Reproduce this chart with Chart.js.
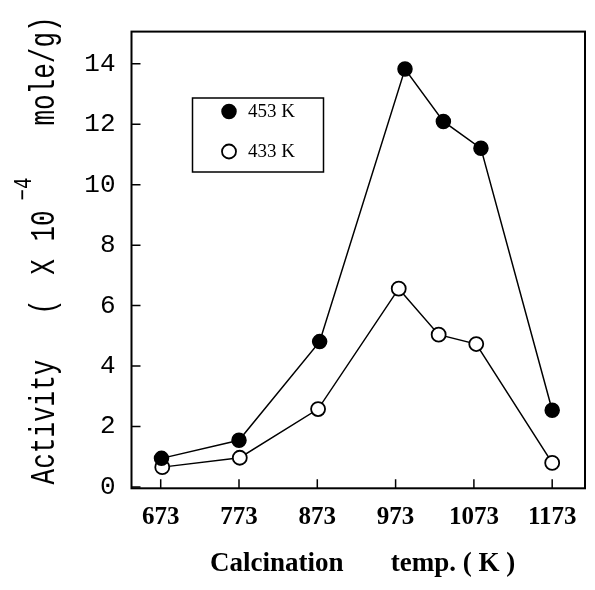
<!DOCTYPE html>
<html>
<head>
<meta charset="utf-8">
<script src="https://cdn.jsdelivr.net/npm/chart.js@4/dist/chart.umd.min.js"></script>
<style>
  html, body { margin: 0; padding: 0; background: #fff; }
  canvas { display: block; }
</style>
</head>
<body>
<canvas id="chart" width="595" height="590"></canvas>
<script>
// Activity vs. calcination temperature, measured at two reaction temperatures
const seriesLabels = ['453 K', '433 K'];
const calcTemp453 = [674, 773, 876, 985, 1034, 1082, 1173];
const activity453 = [0.95, 1.55, 4.81, 13.82, 12.09, 11.2, 2.54];
const calcTemp433 = [675, 774, 874, 977, 1028, 1076, 1173];
const activity433 = [0.66, 0.97, 2.58, 6.56, 5.04, 4.73, 0.80];
const xTickValues = [673, 773, 873, 973, 1073, 1173];
const yTickValues = [0, 2, 4, 6, 8, 10, 12, 14];

const toPoints = (xs, ys) => xs.map((x, i) => ({ x: x, y: ys[i] }));

const MONO = '"Liberation Mono", "Courier New", monospace';
const SERIF = '"Liberation Serif", "Times New Roman", serif';

// Boxed frame, inward tick marks, axis titles and the inset legend
const decorations = {
  id: 'decorations',
  afterDraw(chart) {
    const ctx = chart.ctx;
    const a = chart.chartArea;
    const xs = chart.scales.x, ys = chart.scales.y;
    ctx.save();

    // frame
    ctx.strokeStyle = '#000';
    ctx.lineWidth = 2;
    ctx.strokeRect(a.left, a.top, a.right - a.left, a.bottom - a.top);

    // inward ticks
    ctx.lineWidth = 1.5;
    const tl = 9;
    ctx.beginPath();
    xTickValues.forEach(v => {
      const px = xs.getPixelForValue(v);
      ctx.moveTo(px, a.bottom);
      ctx.lineTo(px, a.bottom - tl);
    });
    yTickValues.forEach(v => {
      const py = ys.getPixelForValue(v);
      ctx.moveTo(a.left, py);
      ctx.lineTo(a.left + tl, py);
    });
    ctx.stroke();

    // x-axis title
    ctx.fillStyle = '#000';
    ctx.font = 'bold 27px ' + SERIF;
    ctx.textAlign = 'left';
    ctx.textBaseline = 'alphabetic';
    ctx.fillText('Calcination       temp. ( K )', 210, 571);

    // y-axis title, rotated, typewriter face with tall glyphs
    const drawUp = (text, size, xBase, yCenter) => {
      ctx.save();
      ctx.translate(xBase, yCenter);
      ctx.rotate(-Math.PI / 2);
      ctx.scale(1, 1.35);
      ctx.font = size + 'px ' + MONO;
      ctx.textAlign = 'center';
      ctx.textBaseline = 'alphabetic';
      ctx.fillText(text, 0, 0);
      ctx.restore();
    };
    drawUp('Activity', 26, 53.5, 422);
    drawUp('(', 26, 53.5, 307);
    drawUp('X', 26, 53.5, 267);
    drawUp('10', 26, 53.5, 226);
    drawUp('\u22124', 19, 31, 189);
    drawUp('mole/g)', 26, 53.5, 71);

    // legend
    const box = { x: 192.5, y: 98, w: 131, h: 74 };
    ctx.fillStyle = '#fff';
    ctx.fillRect(box.x, box.y, box.w, box.h);
    ctx.strokeStyle = '#000';
    ctx.lineWidth = 1.5;
    ctx.strokeRect(box.x, box.y, box.w, box.h);
    const rows = [111.5, 151.5];
    chart.data.datasets.forEach((ds, i) => {
      const cy = rows[i];
      ctx.beginPath();
      ctx.arc(229, cy, ds.pointRadius, 0, Math.PI * 2);
      ctx.fillStyle = ds.pointBackgroundColor;
      ctx.fill();
      ctx.lineWidth = ds.pointBorderWidth;
      ctx.strokeStyle = ds.pointBorderColor;
      ctx.stroke();
      ctx.fillStyle = '#000';
      ctx.font = '19px ' + SERIF;
      ctx.textAlign = 'left';
      ctx.textBaseline = 'middle';
      ctx.fillText(ds.label, 248, cy + 1);
    });

    ctx.restore();
  }
};

new Chart(document.getElementById('chart'), {
  type: 'line',
  data: {
    datasets: [
      {
        label: seriesLabels[0],
        data: toPoints(calcTemp453, activity453),
        borderColor: '#000',
        borderWidth: 1.5,
        pointRadius: 7,
        pointBackgroundColor: '#000',
        pointBorderColor: '#000',
        pointBorderWidth: 1.5,
        tension: 0
      },
      {
        label: seriesLabels[1],
        data: toPoints(calcTemp433, activity433),
        borderColor: '#000',
        borderWidth: 1.5,
        pointRadius: 7,
        pointBackgroundColor: '#fff',
        pointBorderColor: '#000',
        pointBorderWidth: 1.8,
        tension: 0
      }
    ]
  },
  options: {
    responsive: false,
    animation: false,
    devicePixelRatio: 1,
    layout: { padding: { top: 24.7, right: 10, bottom: 0, left: 0 } },
    plugins: {
      legend: { display: false },
      tooltip: { enabled: false }
    },
    scales: {
      x: {
        type: 'linear',
        min: 635.7,
        max: 1214.9,
        afterBuildTicks: s => { s.ticks = xTickValues.map(v => ({ value: v })); },
        afterFit: s => { s.height = 101.7; },
        grid: { display: false, drawTicks: false },
        border: { display: false },
        ticks: {
          padding: 14,
          color: '#000',
          maxRotation: 0,
          autoSkip: false,
          font: { family: SERIF, size: 25, weight: 'bold' },
          callback: v => String(v)
        }
      },
      y: {
        type: 'linear',
        min: -0.04,
        max: 15.06,
        afterBuildTicks: s => { s.ticks = yTickValues.map(v => ({ value: v })); },
        afterFit: s => { s.width = 131.5; },
        grid: { display: false, drawTicks: false },
        border: { display: false },
        ticks: {
          padding: 16,
          color: '#000',
          autoSkip: false,
          font: { family: MONO, size: 26 },
          callback: v => String(v)
        }
      }
    }
  },
  plugins: [decorations]
});
</script>
</body>
</html>
